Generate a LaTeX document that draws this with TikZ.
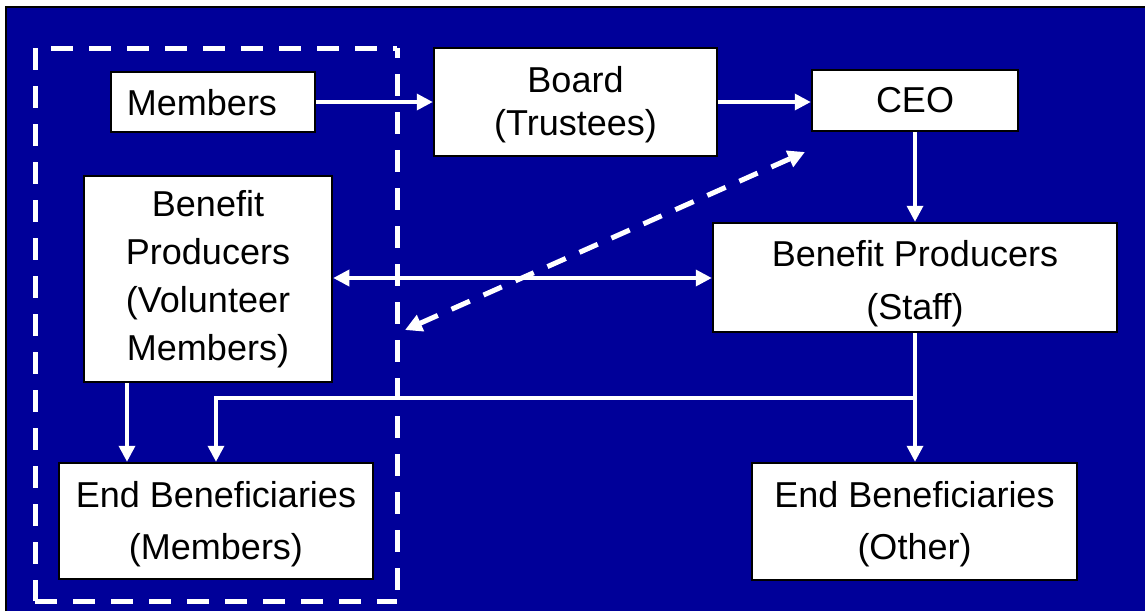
\documentclass[tikz,border=0pt]{standalone}
\usepackage{fontspec}
\setmainfont{Liberation Sans}
\usetikzlibrary{arrows.meta,calc}
\definecolor{bgblue}{RGB}{0,0,153}
\tikzset{
  box/.style={draw=black, line width=2.5pt, fill=white, inner sep=0pt},
  txt/.style={inner sep=0pt, align=center, text=black},
  fA/.style={font=\fontsize{36}{43.5}\selectfont},
  fB/.style={font=\fontsize{36}{48}\selectfont},
  fC/.style={font=\fontsize{36}{52}\selectfont},
  fD/.style={font=\fontsize{36}{53}\selectfont},
  arr/.style={draw=white, line width=3.5pt, -{Triangle[length=16pt,width=16pt]}},
  darr/.style={draw=white, line width=3.5pt, {Triangle[length=16pt,width=16pt]}-{Triangle[length=16pt,width=16pt]}},
  dasharr/.style={draw=white, line width=5pt, dash pattern=on 20pt off 15pt, {Triangle[length=17pt,width=17pt]}-{Triangle[length=17pt,width=17pt]}},
  dashframe/.style={draw=white, line width=5pt, dash pattern=on 22pt off 16pt}
}
\begin{document}
\begin{tikzpicture}[x=1pt,y=-1pt]
\useasboundingbox (0,0) rectangle (1145,611);
\fill[white] (0,0) rectangle (1145,611);
\fill[bgblue] (6,7) rectangle (1145,611);
\draw[black, line width=2.5pt] (6,611) -- (6,7) -- (1145,7);

% dashed frame
\draw[dashframe] (35,48) -- (35,601);
\draw[dashframe, dash phase=22pt] (35,48) -- (397,48);
\draw[dashframe] (35,601) -- (397,601);
\draw[dashframe, dash phase=12pt] (397,48) -- (397,601);

% boxes
\node[box, minimum width=204pt, minimum height=60pt] (members) at (213,102) {};
\node[box, minimum width=283pt, minimum height=108pt] (board) at (575.5,102) {};
\node[box, minimum width=206pt, minimum height=61pt] (ceo) at (915,100.5) {};
\node[box, minimum width=248pt, minimum height=206pt] (bpv) at (208,279) {};
\node[box, minimum width=404pt, minimum height=109pt] (bps) at (915,277.5) {};
\node[box, minimum width=314pt, minimum height=116pt] (ebm) at (216,521) {};
\node[box, minimum width=325pt, minimum height=117pt] (ebo) at (914.5,521.5) {};

% texts
\node[txt, fA] (members-t) at ([xshift=-11pt,yshift=-1pt]members.center) {Members};
\node[txt, fA] (board-t) at ([yshift=-2.5pt]board.center) {Board\\(Trustees)};
\node[txt, fA] (ceo-t) at (ceo.center) {CEO};
\node[txt, fB] (bpv-t) at ([yshift=-0.5pt]bpv.center) {Benefit\\Producers\\(Volunteer\\Members)};
\node[txt, fD] (bps-t) at ([yshift=-6.5pt]bps.center) {Benefit Producers\\(Staff)};
\node[txt, fC] (ebm-t) at ([yshift=-3.5pt]ebm.center) {End Beneficiaries\\(Members)};
\node[txt, fC] (ebo-t) at ([yshift=-3pt]ebo.center) {End Beneficiaries\\(Other)};

% connectors
\draw[arr] (members.east) -- (members.east -| board.west);
\draw[arr] (board.east) -- (board.east -| ceo.west);
\draw[arr] (ceo.south) -- (ceo.south |- bps.north);
\draw[darr] (bpv.east |- 0,278) -- (bps.west |- 0,278);
\coordinate (d1) at (405,330);
\coordinate (d2) at (805,152);
\draw[dasharr] (d1) -- (d2);
\draw[arr] ([xshift=-81pt]bpv.south) -- ([xshift=-81pt]bpv.south |- ebm.north);
\draw[arr] (bps.south) -- (bps.south |- ebo.north);
\coordinate (j) at (bps.south |- 0,398);
\draw[arr] (j) -| (ebm.north);
\end{tikzpicture}
\end{document}
